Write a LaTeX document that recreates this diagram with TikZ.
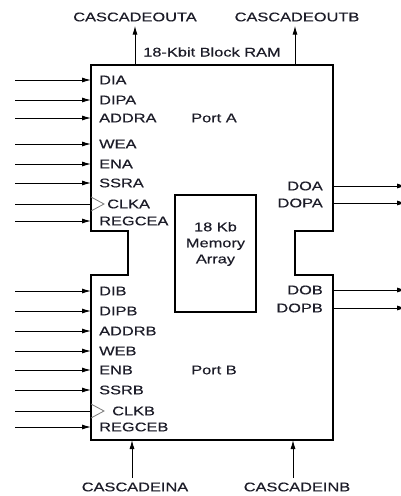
\documentclass[tikz,border=0pt]{standalone}
\usepackage{fontspec}
\setmainfont[FakeStretch=1.3,FakeBold=0.4]{Liberation Sans}
\usepackage{tikz}
\usetikzlibrary{arrows.meta,positioning,calc}
\definecolor{ink}{HTML}{1C1C28}
\definecolor{clk}{HTML}{7A7A7A}
\tikzset{
  >={Latex[length=9pt,width=5pt]},
  lab/.style={font=\fontsize{12.6}{16}\selectfont,text=ink,inner sep=4pt},
  pinlab/.style={lab,anchor=west,inner sep=0pt},
  outlab/.style={lab,anchor=east,inner sep=0pt},
  arr/.style={->,draw=black,line width=1pt},
  wire/.style={draw=black,line width=1pt},
  blk/.style={draw=black,line width=1.6pt},
  clktri/.style={draw=clk,line width=0.8pt},
}

\begin{document}
\begin{tikzpicture}[x=1pt,y=-1pt]
\useasboundingbox (0,0) rectangle (400,496);
% block outline with notches
\draw[blk] (91,65) -- (333,65) -- (333,231) -- (295,231) -- (295,275) -- (333,275)
  -- (333,440) -- (91,440) -- (91,275) -- (128,275) -- (128,231) -- (91,231) -- cycle;
\node[blk,minimum width=81pt,minimum height=117pt] (mem) at (215.5,253.5) {};
\node[lab,align=center] (memtxt) at (215.5,244) {18 Kb\\Memory\\Array};
\node[lab] (title) at (212,52) {18-Kbit Block RAM};
\node[lab] (porta) at (214,118) {Port A};
\node[lab] (portb) at (214,370) {Port B};

% cascade ports
\node[lab] (coa) at (135,17) {CASCADEOUTA};
\node[lab] (cob) at (297,17) {CASCADEOUTB};
\node[lab] (cia) at (135,487) {CASCADEINA};
\node[lab] (cib) at (297,487) {CASCADEINB};
\coordinate (coaS) at (135,65);
\coordinate (cobS) at (295,65);
\coordinate (ciaS) at (132,478);
\coordinate (ciaE) at (132,440);
\coordinate (cibS) at (293,478);
\coordinate (cibE) at (293,440);
\draw[arr] (coaS) -- (coa.south -| coaS);
\draw[arr] (cobS) -- (cob.south -| cobS);
\draw[arr] (ciaS) -- (ciaE);
\draw[arr] (cibS) -- (cibE);

% data and control inputs
\foreach \p/\y in {DIA/80,DIPA/100,ADDRA/118,WEA/144,ENA/164,SSRA/183,REGCEA/221,
                   DIB/291,DIPB/311,ADDRB/331,WEB/351,ENB/370,SSRB/390,REGCEB/427} {
  \node[pinlab] (\p) at (99,\y) {\p};
  \coordinate (s\p) at (15,\y);
  \coordinate (e\p) at (91,\y);
  \draw[arr] (s\p) -- (e\p);
}

% clocks
\node[pinlab] (CLKA) at (107,204) {CLKA};
\node[pinlab] (CLKB) at (112,411) {CLKB};
\foreach \c/\y in {CLKA/204,CLKB/411} {
  \coordinate (s\c) at (15,\y);
  \coordinate (e\c) at (91,\y);
  \draw[wire] (s\c) -- (e\c);
  \draw[clktri] ($(e\c)+(0,-7)$) -- ($(e\c)+(13,0)$) -- ($(e\c)+(0,7)$);
}

% outputs
\foreach \p/\y in {DOA/186,DOPA/203,DOB/290,DOPB/308} {
  \node[outlab] (\p) at (323,\y) {\p};
  \coordinate (s\p) at (333,\y);
  \coordinate (e\p) at (406,\y);
  \draw[arr] (s\p) -- (e\p);
}
\end{tikzpicture}
\end{document}
